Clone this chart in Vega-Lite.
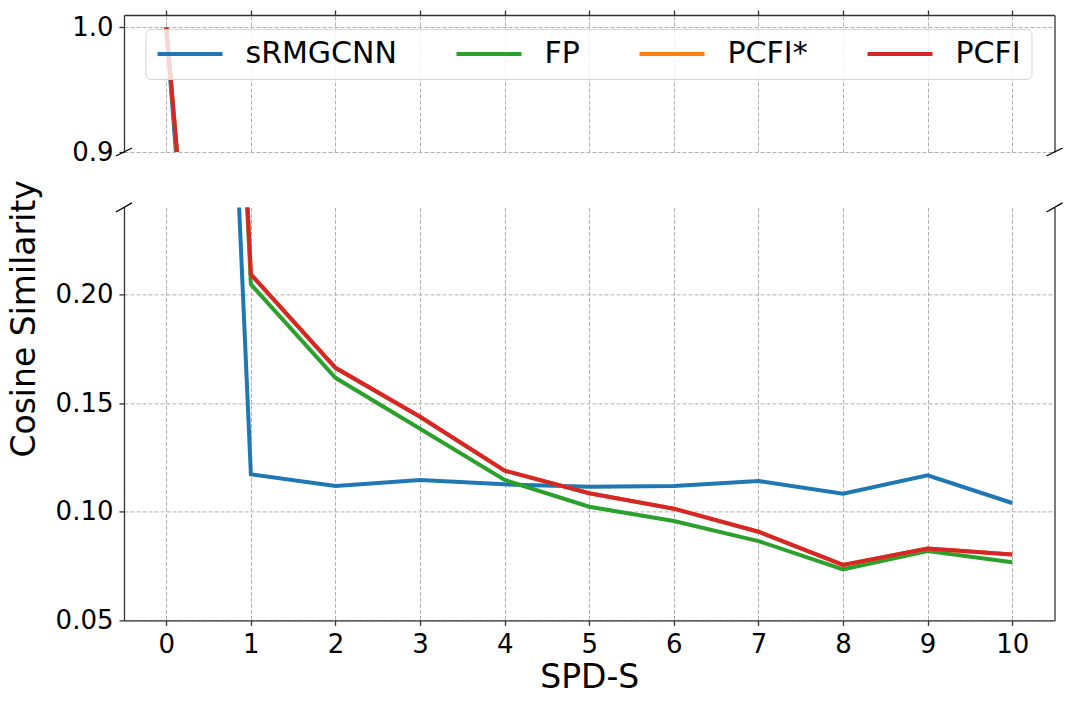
{
  "$schema": "https://vega.github.io/schema/vega-lite/v6.json",
  "padding": {"left": 8, "top": 9, "right": 5, "bottom": 5},
  "background": "white",
  "datasets": {
    "series": [
      {"spd": 0, "cos": 1.0, "method": "sRMGCNN"},
      {"spd": 1, "cos": 0.1172, "method": "sRMGCNN"},
      {"spd": 2, "cos": 0.1118, "method": "sRMGCNN"},
      {"spd": 3, "cos": 0.1146, "method": "sRMGCNN"},
      {"spd": 4, "cos": 0.1126, "method": "sRMGCNN"},
      {"spd": 5, "cos": 0.1115, "method": "sRMGCNN"},
      {"spd": 6, "cos": 0.1118, "method": "sRMGCNN"},
      {"spd": 7, "cos": 0.1141, "method": "sRMGCNN"},
      {"spd": 8, "cos": 0.1083, "method": "sRMGCNN"},
      {"spd": 9, "cos": 0.1167, "method": "sRMGCNN"},
      {"spd": 10, "cos": 0.104, "method": "sRMGCNN"},
      {"spd": 0, "cos": 1.0, "method": "FP"},
      {"spd": 1, "cos": 0.2046, "method": "FP"},
      {"spd": 2, "cos": 0.1616, "method": "FP"},
      {"spd": 3, "cos": 0.1382, "method": "FP"},
      {"spd": 4, "cos": 0.1146, "method": "FP"},
      {"spd": 5, "cos": 0.1023, "method": "FP"},
      {"spd": 6, "cos": 0.0957, "method": "FP"},
      {"spd": 7, "cos": 0.0865, "method": "FP"},
      {"spd": 8, "cos": 0.0735, "method": "FP"},
      {"spd": 9, "cos": 0.0819, "method": "FP"},
      {"spd": 10, "cos": 0.0768, "method": "FP"},
      {"spd": 0, "cos": 1.0, "method": "PCFI*"},
      {"spd": 1, "cos": 0.2092, "method": "PCFI*"},
      {"spd": 2, "cos": 0.1662, "method": "PCFI*"},
      {"spd": 3, "cos": 0.1437, "method": "PCFI*"},
      {"spd": 4, "cos": 0.1189, "method": "PCFI*"},
      {"spd": 5, "cos": 0.1085, "method": "PCFI*"},
      {"spd": 6, "cos": 0.1014, "method": "PCFI*"},
      {"spd": 7, "cos": 0.0908, "method": "PCFI*"},
      {"spd": 8, "cos": 0.0755, "method": "PCFI*"},
      {"spd": 9, "cos": 0.0831, "method": "PCFI*"},
      {"spd": 10, "cos": 0.0803, "method": "PCFI*"},
      {"spd": 0, "cos": 1.0, "method": "PCFI"},
      {"spd": 1, "cos": 0.2092, "method": "PCFI"},
      {"spd": 2, "cos": 0.1662, "method": "PCFI"},
      {"spd": 3, "cos": 0.1437, "method": "PCFI"},
      {"spd": 4, "cos": 0.1189, "method": "PCFI"},
      {"spd": 5, "cos": 0.1085, "method": "PCFI"},
      {"spd": 6, "cos": 0.1014, "method": "PCFI"},
      {"spd": 7, "cos": 0.0908, "method": "PCFI"},
      {"spd": 8, "cos": 0.0755, "method": "PCFI"},
      {"spd": 9, "cos": 0.0831, "method": "PCFI"},
      {"spd": 10, "cos": 0.0803, "method": "PCFI"}
    ],
    "breaksTop": [
      {"bx1": -0.5946, "bx2": -0.4054, "by1": 0.8968, "by2": 0.9032},
      {"bx1": 10.4054, "bx2": 10.5946, "by1": 0.8968, "by2": 0.9032}
    ],
    "breaksBottom": [
      {"bx1": -0.5946, "bx2": -0.4054, "by1": 0.2379, "by2": 0.2421},
      {"bx1": 10.4054, "bx2": 10.5946, "by1": 0.2379, "by2": 0.2421}
    ]
  },
  "vconcat": [
    {
      "width": 930.5,
      "height": 137,
      "layer": [
        {
          "data": {"name": "series"},
          "mark": {"type": "line", "strokeWidth": 4, "clip": true},
          "encoding": {
            "x": {
              "field": "spd",
              "type": "quantitative",
              "scale": {"domain": [-0.5, 10.5], "nice": false, "zero": false},
              "axis": {"orient": "top", "labels": false, "title": null, "domain": true, "ticks": true, "grid": true, "values": [0, 1, 2, 3, 4, 5, 6, 7, 8, 9, 10]}
            },
            "y": {
              "field": "cos",
              "type": "quantitative",
              "scale": {"domain": [0.9, 1.01], "nice": false, "zero": false},
              "axis": {"orient": "left", "title": null, "domain": true, "ticks": true, "grid": true, "values": [0.9, 1.0], "format": ".1f"}
            },
            "color": {
              "field": "method",
              "type": "nominal",
              "scale": {
                "domain": ["sRMGCNN", "FP", "PCFI*", "PCFI"],
                "range": ["#1f77b4", "#2ca02c", "#ff7f0e", "#d62728"]
              },
              "legend": {
                "orient": "none",
                "legendX": 21.5,
                "legendY": 14,
                "direction": "horizontal",
                "title": null,
                "symbolType": "M-1,0L4,0",
                "symbolSize": 676,
                "symbolStrokeWidth": 4,
                "labelFont": "DejaVu Sans",
                "labelFontSize": 30,
                "labelColor": "black",
                "labelOffset": 60,
                "labelLimit": 400,
                "columnPadding": 51,
                "padding": 10,
                "strokeColor": "#d5d5d5",
                "fillColor": "rgba(255,255,255,0.8)",
                "cornerRadius": 5
              }
            }
          }
        },
        {
          "data": {"name": "breaksTop"},
          "mark": {"type": "rule", "color": "black", "strokeWidth": 1.3, "clip": false},
          "encoding": {
            "x": {"field": "bx1", "type": "quantitative"},
            "x2": {"field": "bx2"},
            "y": {
              "field": "by1",
              "type": "quantitative",
              "axis": {"orient": "right", "title": null, "labels": false, "ticks": false, "grid": false, "domain": true}
            },
            "y2": {"field": "by2"}
          }
        }
      ],
      "resolve": {"axis": {"y": "independent"}}
    },
    {
      "width": 930.5,
      "height": 413,
      "layer": [
        {
          "data": {"name": "series"},
          "mark": {"type": "line", "strokeWidth": 4, "clip": true},
          "encoding": {
            "x": {
              "field": "spd",
              "type": "quantitative",
              "scale": {"domain": [-0.5, 10.5], "nice": false, "zero": false},
              "axis": {"orient": "bottom", "title": "SPD-S", "domain": true, "ticks": true, "grid": true, "values": [0, 1, 2, 3, 4, 5, 6, 7, 8, 9, 10], "format": "d", "labelFlush": false}
            },
            "y": {
              "field": "cos",
              "type": "quantitative",
              "scale": {"domain": [0.05, 0.24], "nice": false, "zero": false},
              "axis": {"orient": "left", "title": "Cosine Similarity", "domain": true, "ticks": true, "grid": true, "values": [0.05, 0.1, 0.15, 0.2], "format": ".2f", "titleY": 111, "titlePadding": 14}
            },
            "color": {
              "field": "method",
              "type": "nominal",
              "scale": {
                "domain": ["sRMGCNN", "FP", "PCFI*", "PCFI"],
                "range": ["#1f77b4", "#2ca02c", "#ff7f0e", "#d62728"]
              },
              "legend": null
            }
          }
        },
        {
          "data": {"name": "breaksBottom"},
          "mark": {"type": "rule", "color": "black", "strokeWidth": 1.3, "clip": false},
          "encoding": {
            "x": {"field": "bx1", "type": "quantitative"},
            "x2": {"field": "bx2"},
            "y": {
              "field": "by1",
              "type": "quantitative",
              "axis": {"orient": "right", "title": null, "labels": false, "ticks": false, "grid": false, "domain": true}
            },
            "y2": {"field": "by2"}
          }
        }
      ],
      "resolve": {"axis": {"y": "independent"}}
    }
  ],
  "spacing": 55.4,
  "bounds": "flush",
  "resolve": {"legend": {"color": "independent"}},
  "config": {
    "view": {"stroke": null},
    "axis": {
      "labelFont": "DejaVu Sans",
      "labelFontSize": 26,
      "labelColor": "black",
      "titleFont": "DejaVu Sans",
      "titleFontSize": 33,
      "titleFontWeight": "normal",
      "titleColor": "black",
      "domainColor": "#333333",
      "domainWidth": 1.3,
      "tickColor": "#333333",
      "tickWidth": 1.3,
      "tickSize": 5,
      "labelPadding": 6,
      "gridColor": "#b0b0b0",
      "gridDash": [4, 2],
      "gridWidth": 1
    }
  }
}
